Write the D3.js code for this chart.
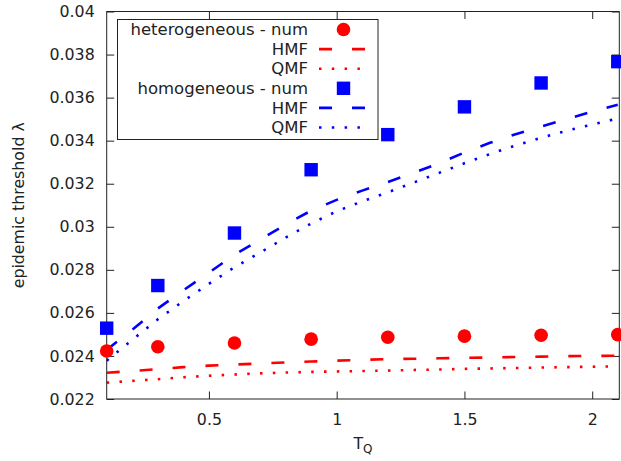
<!DOCTYPE html>
<html>
<head>
<meta charset="utf-8">
<script src="https://cdn.jsdelivr.net/npm/d3@7"></script>
<style>
  body { margin: 0; background: #fff; }
  svg { display: block; font-family: "DejaVu Sans", sans-serif; }
</style>
</head>
<body>
<script>
// values
const numX = [0.1, 0.3, 0.6, 0.9, 1.2, 1.5, 1.8, 2.1];
const heteroNum = [0.02423, 0.02443, 0.0246, 0.02478, 0.02487, 0.02492, 0.02496, 0.02499];
const homoNum = [0.02529, 0.02727, 0.02971, 0.03265, 0.03428, 0.03557, 0.03668, 0.03767];

const curveX = [0.1, 0.2, 0.3, 0.4, 0.5, 0.6, 0.7, 0.8, 0.9, 1.0, 1.1,
                1.2, 1.3, 1.4, 1.5, 1.6, 1.7, 1.8, 1.9, 2.0, 2.1];
const heteroHMF = [0.02322, 0.0233, 0.02339, 0.02348, 0.02355, 0.0236, 0.02365, 0.0237, 0.02374, 0.02378, 0.02382,
                   0.02385, 0.02387, 0.02389, 0.02391, 0.02393, 0.02395, 0.02397, 0.02399, 0.024, 0.02401];
const heteroQMF = [0.02276, 0.02284, 0.02292, 0.02301, 0.02308, 0.02314, 0.02319, 0.02323, 0.02326, 0.02328, 0.0233,
                   0.02332, 0.02335, 0.02337, 0.0234, 0.02342, 0.02344, 0.02346, 0.02348, 0.0235, 0.02352];
const homoHMF = [0.02428, 0.02522, 0.0262, 0.02705, 0.02787, 0.0287, 0.0294, 0.0301, 0.03075, 0.03125, 0.03168,
                 0.03208, 0.0325, 0.03295, 0.03345, 0.0339, 0.0343, 0.03466, 0.035, 0.03535, 0.03567];
const homoQMF = [0.02378, 0.02475, 0.0257, 0.02655, 0.02735, 0.02812, 0.0288, 0.0295, 0.03015, 0.03072, 0.03118,
                 0.0316, 0.03205, 0.0325, 0.03295, 0.03338, 0.03378, 0.03413, 0.03446, 0.03475, 0.03503];

const xTicks = [0.5, 1, 1.5, 2];
const yTicks = d3.range(0.022, 0.04001, 0.002);

const width = 621, height = 461;
const margin = {top: 11.5, right: 1.7, bottom: 62, left: 106.7};

const svg = d3.select("body").append("svg")
    .attr("width", width)
    .attr("height", height);

const x = d3.scaleLinear().domain([0.1, 2.106]).range([margin.left, width - margin.right]);
const y = d3.scaleLinear().domain([0.022, 0.04]).range([height - margin.bottom, margin.top]);

const red = "#ff0000", blue = "#0000ff";
const tickLen = 7.5;

svg.append("defs").append("clipPath").attr("id", "plot")
  .append("rect")
    .attr("x", x.range()[0]).attr("y", y.range()[1])
    .attr("width", x.range()[1] - x.range()[0])
    .attr("height", y.range()[0] - y.range()[1]);

// axes with inward ticks, mirrored
const gx = svg.append("g").attr("transform", `translate(0,${y.range()[0]})`)
    .call(d3.axisBottom(x).tickValues(xTicks).tickSizeInner(-tickLen).tickSizeOuter(0).tickPadding(15)
      .tickFormat(d3.format("")));
const gxTop = svg.append("g").attr("transform", `translate(0,${y.range()[1]})`)
    .call(d3.axisTop(x).tickValues(xTicks).tickSizeInner(-tickLen).tickSizeOuter(0).tickFormat(""));
const gy = svg.append("g").attr("transform", `translate(${x.range()[0]},0)`)
    .call(d3.axisLeft(y).tickValues(yTicks).tickSizeInner(-tickLen).tickSizeOuter(0).tickPadding(12)
      .tickFormat(d => d3.format("")(+d.toFixed(3))));
const gyRight = svg.append("g").attr("transform", `translate(${x.range()[1]},0)`)
    .call(d3.axisRight(y).tickValues(yTicks).tickSizeInner(-tickLen).tickSizeOuter(0).tickFormat(""));

[gx, gxTop, gy, gyRight].forEach(g => {
  g.select(".domain").remove();
  g.selectAll("line").attr("stroke", "#222");
  g.selectAll("text").attr("font-size", 15.8).attr("fill", "#222").attr("font-family", "DejaVu Sans");
});

// frame
svg.append("rect")
    .attr("x", x.range()[0]).attr("y", y.range()[1])
    .attr("width", x.range()[1] - x.range()[0])
    .attr("height", y.range()[0] - y.range()[1])
    .attr("fill", "none").attr("stroke", "#222");

// axis titles
const xt = svg.append("text")
    .attr("x", (x.range()[0] + x.range()[1]) / 2)
    .attr("y", 449)
    .attr("text-anchor", "middle")
    .attr("font-size", 15.8).attr("fill", "#222");
xt.append("tspan").text("T");
xt.append("tspan").attr("dy", 4).attr("font-size", 12).text("Q");

svg.append("text")
    .attr("transform", `translate(24,${(y.range()[0] + y.range()[1]) / 2}) rotate(-90)`)
    .attr("text-anchor", "middle")
    .attr("font-size", 15.8).attr("fill", "#222")
    .text("epidemic threshold λ");

// curves
const line = d3.line().x((d, i) => x(curveX[i])).y(d => y(d));
const dashed = "13 20", dotted = "2.5 10.3";
const curves = [
  {v: heteroHMF, color: red, dash: dashed},
  {v: heteroQMF, color: red, dash: dotted},
  {v: homoHMF, color: blue, dash: dashed},
  {v: homoQMF, color: blue, dash: dotted}
];
const gLines = svg.append("g").attr("clip-path", "url(#plot)");
gLines.selectAll("path")
  .data(curves)
  .join("path")
    .attr("d", d => line(d.v))
    .attr("fill", "none")
    .attr("stroke", d => d.color)
    .attr("stroke-width", 2.6)
    .attr("stroke-dasharray", d => d.dash);

// numerical points
svg.append("g").selectAll("circle")
  .data(heteroNum)
  .join("circle")
    .attr("cx", (d, i) => x(numX[i]))
    .attr("cy", d => y(d))
    .attr("r", 6.8)
    .attr("fill", red);

const sq = 13.4;
svg.append("g").selectAll("rect")
  .data(homoNum)
  .join("rect")
    .attr("x", (d, i) => x(numX[i]) - sq / 2)
    .attr("y", d => y(d) - sq / 2)
    .attr("width", sq).attr("height", sq)
    .attr("fill", blue);

// legend
const legendItems = [
  {label: "heterogeneous - num", color: red, type: "circle"},
  {label: "HMF", color: red, type: "line", dash: dashed},
  {label: "QMF", color: red, type: "line", dash: dotted},
  {label: "homogeneous - num", color: blue, type: "square"},
  {label: "HMF", color: blue, type: "line", dash: dashed},
  {label: "QMF", color: blue, type: "line", dash: dotted}
];
svg.append("rect")
    .attr("x", 117.5).attr("y", 19.5)
    .attr("width", 260.5).attr("height", 120)
    .attr("fill", "#fff").attr("stroke", "#222");

const lg = svg.append("g").selectAll("g")
  .data(legendItems)
  .join("g")
    .attr("transform", (d, i) => `translate(0,${29.5 + i * 19.6})`);

lg.append("text")
    .attr("x", 308).attr("dy", "0.35em")
    .attr("text-anchor", "end")
    .attr("font-size", 16.5).attr("fill", "#222")
    .text(d => d.label);

lg.filter(d => d.type === "line").append("line")
    .attr("x1", 319).attr("x2", 366)
    .attr("stroke", d => d.color)
    .attr("stroke-width", 2.6)
    .attr("stroke-dasharray", d => d.dash);

lg.filter(d => d.type === "circle").append("circle")
    .attr("cx", 343.5).attr("r", 6.8).attr("fill", d => d.color);

lg.filter(d => d.type === "square").append("rect")
    .attr("x", 343.5 - sq / 2).attr("y", -sq / 2)
    .attr("width", sq).attr("height", sq)
    .attr("fill", d => d.color);
</script>
</body>
</html>
